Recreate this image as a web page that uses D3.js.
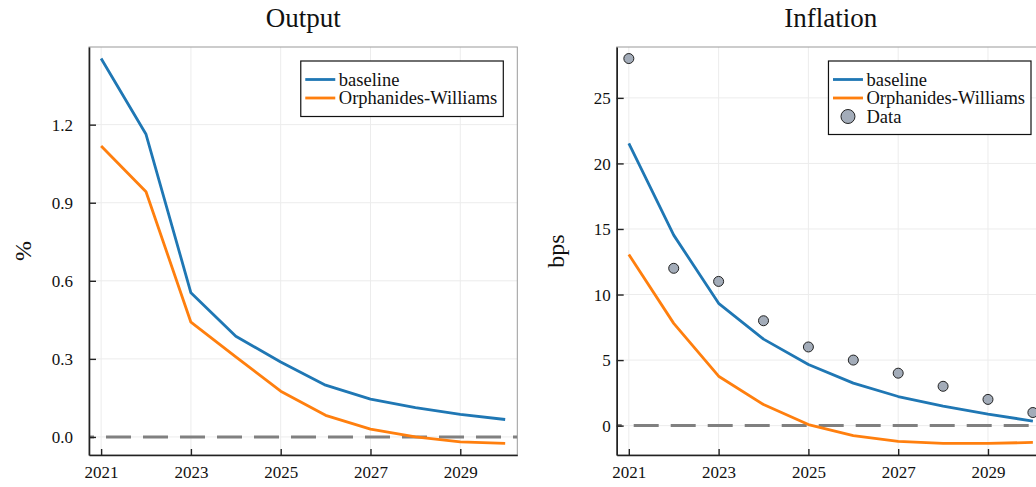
<!DOCTYPE html>
<html>
<head>
<meta charset="utf-8">
<script src="https://cdn.jsdelivr.net/npm/d3@7"></script>
<style>
  body { margin: 0; background: #fff; }
  svg { display: block; font-family: "Liberation Serif", "Times New Roman", serif; }
</style>
</head>
<body>
<div id="chart"></div>
<script>
// data
const years = [2021, 2022, 2023, 2024, 2025, 2026, 2027, 2028, 2029, 2030];
const outputBaseline = [1.454, 1.163, 0.554, 0.387, 0.288, 0.199, 0.145, 0.113, 0.087, 0.067];
const outputOW = [1.118, 0.942, 0.441, 0.308, 0.176, 0.083, 0.030, 0.000, -0.019, -0.025];
const inflBaseline = [21.53, 14.53, 9.33, 6.60, 4.66, 3.24, 2.22, 1.48, 0.87, 0.35];
const inflOW = [13.05, 7.80, 3.77, 1.61, 0.08, -0.76, -1.20, -1.35, -1.36, -1.28];
const inflData = [28, 12, 11, 8, 6, 5, 4, 3, 2, 1];
const xTicks = [2021, 2023, 2025, 2027, 2029];
const outputTicks = [0.0, 0.3, 0.6, 0.9, 1.2];
const inflTicks = [0, 5, 10, 15, 20, 25];
const seriesNames = ["baseline", "Orphanides-Williams", "Data"];

const blue = "#1f77b4", orange = "#ff7f0e", dotFill = "#a3acb9";

const svg = d3.select("#chart").append("svg")
  .attr("width", 1036)
  .attr("height", 487);

const defs = svg.append("defs");

function drawPanel(opt) {
  const left = opt.left, top = 47, width = 428.3, height = 408;

  // 3% padding like Plots.jl
  const xExt = d3.extent(years);
  const xPad = (xExt[1] - xExt[0]) * 0.03;
  const x = d3.scaleLinear().domain([xExt[0] - xPad, xExt[1] + xPad]).range([0, width]);

  let allY = opt.series.flat().concat([0]);
  if (opt.dots) allY = allY.concat(opt.dots);
  const yExt = d3.extent(allY);
  const yPad = (yExt[1] - yExt[0]) * 0.03;
  const y = d3.scaleLinear().domain([yExt[0] - yPad, yExt[1] + yPad]).range([height, 0]);

  const g = svg.append("g").attr("transform", "translate(" + left + "," + top + ")");

  defs.append("clipPath").attr("id", "clip-" + opt.id)
    .append("rect").attr("width", width).attr("height", height);

  // grid
  g.append("g").selectAll("line").data(xTicks).enter().append("line")
    .attr("x1", d => x(d)).attr("x2", d => x(d))
    .attr("y1", 0).attr("y2", height)
    .attr("stroke", "#ececec").attr("stroke-width", 1);
  g.append("g").selectAll("line").data(opt.yTicks).enter().append("line")
    .attr("x1", 0).attr("x2", width)
    .attr("y1", d => y(d)).attr("y2", d => y(d))
    .attr("stroke", "#ececec").attr("stroke-width", 1);

  // frame (top/right light)
  g.append("rect")
    .attr("width", width).attr("height", height)
    .attr("fill", "none").attr("stroke", "#9a9a9a").attr("stroke-width", 1);

  const plot = g.append("g").attr("clip-path", "url(#clip-" + opt.id + ")");

  // zero line
  plot.append("line")
    .attr("x1", 0).attr("x2", width)
    .attr("y1", y(0)).attr("y2", y(0))
    .attr("stroke", "#808080").attr("stroke-width", 3)
    .attr("stroke-dasharray", "25,12")
    .attr("stroke-dashoffset", 20);

  const line = d3.line().x((d, i) => x(years[i])).y(d => y(d));
  const colors = [blue, orange];
  opt.series.forEach(function(s, i) {
    plot.append("path").datum(s)
      .attr("d", line)
      .attr("fill", "none")
      .attr("stroke", colors[i])
      .attr("stroke-width", 2.8)
      .attr("stroke-linejoin", "round");
  });

  if (opt.dots) {
    g.append("g").selectAll("circle").data(opt.dots).enter().append("circle")
      .attr("cx", (d, i) => x(years[i]))
      .attr("cy", d => y(d))
      .attr("r", 5)
      .attr("fill", dotFill)
      .attr("stroke", "#222")
      .attr("stroke-width", 1);
  }

  // axes
  const xAxis = g.append("g").attr("transform", "translate(0," + height + ")")
    .call(d3.axisBottom(x).tickValues(xTicks).tickFormat(d3.format("d"))
      .tickSizeInner(-6).tickSizeOuter(0))
    .attr("font-family", null).attr("font-size", 17);
  xAxis.select(".domain").attr("stroke", "#222").attr("stroke-width", 1.6);
  xAxis.selectAll(".tick line").attr("stroke", "#222").attr("stroke-width", 1.4);
  xAxis.selectAll("text").attr("y", 23).attr("dy", 0).attr("fill", "#111");

  const yAxis = g.append("g")
    .call(d3.axisLeft(y).tickValues(opt.yTicks).tickFormat(opt.fmt)
      .tickSizeInner(-7).tickSizeOuter(0))
    .attr("font-family", null).attr("font-size", 17);
  yAxis.select(".domain").attr("stroke", "#222").attr("stroke-width", 1.6);
  yAxis.selectAll(".tick line").attr("stroke", "#222").attr("stroke-width", 1.4);
  yAxis.selectAll("text").attr("x", -opt.labelGap).attr("dy", "0.34em").attr("fill", "#111");

  // title
  g.append("text")
    .attr("x", width / 2).attr("y", 27 - top)
    .attr("text-anchor", "middle")
    .attr("font-size", 27)
    .attr("fill", "#111")
    .text(opt.title);

  // y label
  g.append("text")
    .attr("transform", "translate(" + (opt.ylabelX - left) + "," + (height / 2) + ") rotate(-90)")
    .attr("text-anchor", "middle")
    .attr("dy", "0.35em")
    .attr("font-size", 24)
    .attr("fill", "#111")
    .text(opt.ylabel);

  // legend
  const nItems = opt.dots ? 3 : 2;
  const leg = g.append("g");
  const legBox = leg.append("rect").attr("fill", "#fff").attr("stroke", "#111").attr("stroke-width", 1.2);
  const rowY = [18.5, 37, 55.5];
  let maxW = 0;
  for (let i = 0; i < nItems; i++) {
    if (i < 2) {
      leg.append("line")
        .attr("x1", 4.5).attr("x2", 34.5)
        .attr("y1", rowY[i]).attr("y2", rowY[i])
        .attr("stroke", colors[i]).attr("stroke-width", 2.8);
    } else {
      leg.append("circle")
        .attr("cx", 19.5).attr("cy", rowY[i]).attr("r", 7)
        .attr("fill", dotFill).attr("stroke", "#222").attr("stroke-width", 1);
    }
    const t = leg.append("text")
      .attr("x", 38).attr("y", rowY[i]).attr("dy", "0.33em")
      .attr("font-size", 18.5).attr("fill", "#111")
      .text(seriesNames[i]);
    maxW = Math.max(maxW, t.node().getComputedTextLength());
  }
  const legW = 38 + maxW + 6;
  const legH = nItems === 3 ? 73.5 : 55.5;
  legBox.attr("width", legW).attr("height", legH);
  leg.attr("transform", "translate(" + (width - 14 - legW) + ",14)");
}

drawPanel({
  id: "out", left: 89, title: "Output", ylabel: "%", ylabelX: 23,
  series: [outputBaseline, outputOW], yTicks: outputTicks,
  fmt: d3.format(".1f"), labelGap: 16
});

drawPanel({
  id: "inf", left: 616.7, title: "Inflation", ylabel: "bps", ylabelX: 556,
  series: [inflBaseline, inflOW], dots: inflData, yTicks: inflTicks,
  fmt: d3.format("d"), labelGap: 6
});
</script>
</body>
</html>
